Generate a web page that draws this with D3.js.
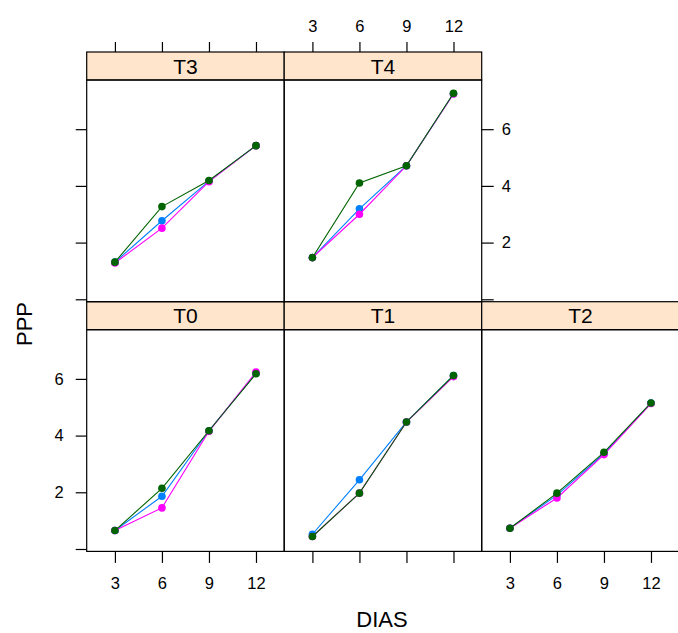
<!DOCTYPE html>
<html lang="en">
<head>
<meta charset="UTF-8">
<title>PPP vs DIAS</title>
<script src="https://d3js.org/d3.v7.min.js"></script>
<style>
  body { margin: 0; background: #fff; }
  svg text { font-family: "Liberation Sans", Arial, sans-serif; fill: #000; }
  .axis path { display: none; }
  .axis line { stroke: #000; stroke-width: 1.2; }
  .axis text { font-size: 16.5px; }
</style>
</head>
<body>
<svg id="chart" width="678" height="633"></svg>
<script>
// data
const dias = [3, 6, 9, 12];
const xTicks = [3, 6, 9, 12];
const yTicks = [0, 2, 4, 6];
const series = ["R1", "R2", "R3"];
const panelNames = ["T0", "T1", "T2", "T3", "T4"];

// one row per series (R1, R2, R3), one value per DIAS
const pppT0 = [[0.65, 1.86, 4.17, 6.20], [0.65, 1.45, 4.15, 6.24], [0.65, 2.14, 4.17, 6.18]];
const pppT1 = [[0.52, 2.44, 4.48, 6.12], [0.44, 1.97, 4.48, 6.08], [0.44, 1.97, 4.48, 6.12]];
const pppT2 = [[0.73, 1.90, 3.36, 5.15], [0.73, 1.80, 3.33, 5.13], [0.73, 1.97, 3.41, 5.15]];
const pppT3 = [[1.31, 2.77, 4.17, 5.42], [1.28, 2.51, 4.15, 5.42], [1.31, 3.27, 4.19, 5.42]];
const pppT4 = [[1.47, 3.19, 4.71, 7.25], [1.47, 3.00, 4.71, 7.24], [1.47, 4.10, 4.71, 7.27]];

const colors = ["#0080ff", "#ff00ff", "#006400"];
const panelData = { T0: pppT0, T1: pppT1, T2: pppT2, T3: pppT3, T4: pppT4 };

// layout (lattice style: T0-T2 bottom row, T3-T4 top row)
const leftX = 86.7, colW = 197.5;
const topY = 52, stripH = 28, panelH = 221.7;
const cells = {
  T0: { col: 0, row: 1 }, T1: { col: 1, row: 1 }, T2: { col: 2, row: 1 },
  T3: { col: 0, row: 0 }, T4: { col: 1, row: 0 }
};

const svg = d3.select("#chart");

const x = d3.scaleLinear().domain([1.2, 13.8]).range([0, colW]);
const y = d3.scaleLinear().domain([-0.085, 7.735]).range([panelH, 0]);

const line = d3.line().x((d, i) => x(dias[i])).y(d => y(d));

panelNames.forEach(name => {
  const c = cells[name];
  const gx = leftX + c.col * colW;
  const gy = topY + c.row * (stripH + panelH);
  const g = svg.append("g").attr("transform", `translate(${gx},${gy})`);

  // strip
  g.append("rect")
    .attr("width", colW).attr("height", stripH)
    .attr("fill", "#ffe5cc").attr("stroke", "#000").attr("stroke-width", 1.2);
  g.append("text")
    .attr("x", colW / 2).attr("y", stripH / 2 + 7.5)
    .attr("text-anchor", "middle")
    .attr("font-size", 21)
    .text(name);

  // panel
  const p = g.append("g").attr("transform", `translate(0,${stripH})`);
  p.append("rect")
    .attr("width", colW).attr("height", panelH)
    .attr("fill", "none").attr("stroke", "#000").attr("stroke-width", 1.2);

  panelData[name].forEach((vals, s) => {
    p.append("path")
      .datum(vals)
      .attr("d", line)
      .attr("fill", "none")
      .attr("stroke", colors[s])
      .attr("stroke-width", 1.1);
    p.selectAll(null)
      .data(vals)
      .enter().append("circle")
      .attr("cx", (d, i) => x(dias[i]))
      .attr("cy", d => y(d))
      .attr("r", 3.8)
      .attr("fill", colors[s]);
  });

  // axes, alternating like lattice
  const noLabels = f => f.tickFormat("");
  if (c.row === 1) {
    const ax = d3.axisBottom(x).tickValues(xTicks).tickSize(11).tickPadding(14);
    p.append("g").attr("class", "axis")
      .attr("transform", `translate(0,${panelH + 0.5})`)
      .call(c.col === 1 ? noLabels(ax) : ax);
  } else {
    const ax = d3.axisTop(x).tickValues(xTicks).tickSize(10).tickPadding(10);
    g.append("g").attr("class", "axis")
      .call(c.col === 0 ? noLabels(ax) : ax);
  }
  if (c.col === 0) {
    const ay = d3.axisLeft(y).tickValues(yTicks).tickSize(11).tickPadding(12)
      .tickFormat(d => (c.row === 1 && d !== 0) ? d : "");
    p.append("g").attr("class", "axis").call(ay);
  }
  if (name === "T4") {
    const ay = d3.axisRight(y).tickValues(yTicks).tickSize(12).tickPadding(8)
      .tickFormat(d => d === 0 ? "" : d);
    p.append("g").attr("class", "axis")
      .attr("transform", `translate(${colW},0)`)
      .call(ay);
  }
});

// axis titles
svg.append("text")
  .attr("x", 382).attr("y", 627)
  .attr("text-anchor", "middle")
  .attr("font-size", 22)
  .text("DIAS");
svg.append("text")
  .attr("transform", "translate(32,324) rotate(-90)")
  .attr("text-anchor", "middle")
  .attr("font-size", 22)
  .text("PPP");
</script>
</body>
</html>
